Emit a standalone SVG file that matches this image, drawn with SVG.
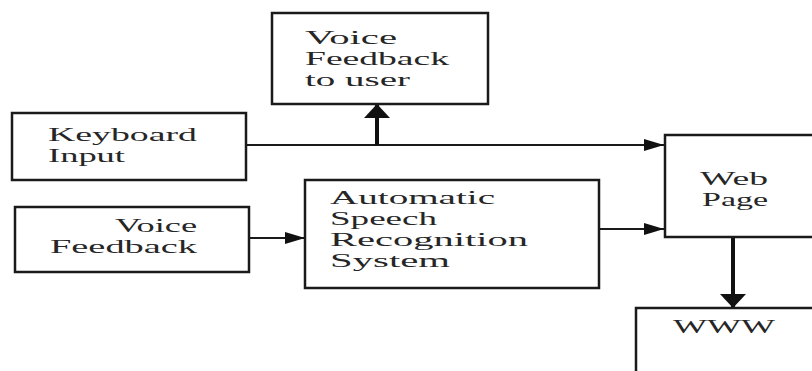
<svg xmlns="http://www.w3.org/2000/svg" width="812" height="371" viewBox="0 0 812 371">
<style>
.box{fill:#fff;stroke:#1a1a1a;stroke-width:2.5}
.t{font-family:"Liberation Serif","Times New Roman",serif;font-size:19px;fill:#262626}
.c{fill:none;stroke:#1a1a1a;stroke-width:2.2}
.ct{fill:none;stroke:#111;stroke-width:4}
</style>
<defs>
<marker id="ah" markerUnits="userSpaceOnUse" markerWidth="20" markerHeight="12" refX="20" refY="6" orient="auto">
<path d="M0,0 L20,6 L0,12 z" fill="#111"/>
</marker>
<marker id="ahb" markerUnits="userSpaceOnUse" markerWidth="14" markerHeight="26" refX="14" refY="13" orient="auto">
<path d="M0,0 L14,13 L0,26 z" fill="#111"/>
</marker>
</defs>
<rect width="812" height="371" fill="#fff"/>
<g id="connectors">
<path class="c" d="M246,145 H664" marker-end="url(#ah)"/>
<path class="ct" d="M377,145 V104" marker-end="url(#ahb)"/>
<path class="c" d="M249,238 H305" marker-end="url(#ah)"/>
<path class="c" d="M599,229 H664" marker-end="url(#ah)"/>
<path class="ct" d="M733,237 V308" marker-end="url(#ahb)"/>
</g>
<g id="voice-feedback-user">
<rect class="box" x="272" y="13" width="216" height="91"/>
<text class="t" x="305" y="44" textLength="92" lengthAdjust="spacingAndGlyphs">Voice</text>
<text class="t" x="305" y="65" textLength="144" lengthAdjust="spacingAndGlyphs">Feedback</text>
<text class="t" x="305" y="86" textLength="105" lengthAdjust="spacingAndGlyphs">to user</text>
</g>
<g id="keyboard-input">
<rect class="box" x="12" y="113" width="234" height="67"/>
<text class="t" x="48" y="141" textLength="149" lengthAdjust="spacingAndGlyphs">Keyboard</text>
<text class="t" x="48" y="162" textLength="77" lengthAdjust="spacingAndGlyphs">Input</text>
</g>
<g id="voice-feedback">
<rect class="box" x="15" y="207" width="234" height="65"/>
<text class="t" x="115" y="232" textLength="82" lengthAdjust="spacingAndGlyphs">Voice</text>
<text class="t" x="50" y="253" textLength="147" lengthAdjust="spacingAndGlyphs">Feedback</text>
</g>
<g id="asr">
<rect class="box" x="305" y="180" width="294" height="108"/>
<text class="t" x="330" y="204" textLength="165" lengthAdjust="spacingAndGlyphs">Automatic</text>
<text class="t" x="330" y="225" textLength="107" lengthAdjust="spacingAndGlyphs">Speech</text>
<text class="t" x="330" y="246" textLength="198" lengthAdjust="spacingAndGlyphs">Recognition</text>
<text class="t" x="330" y="267" textLength="120" lengthAdjust="spacingAndGlyphs">System</text>
</g>
<g id="web-page">
<rect class="box" x="665" y="135" width="160" height="102"/>
<text class="t" x="700" y="185" textLength="68" lengthAdjust="spacingAndGlyphs">Web</text>
<text class="t" x="702" y="206" textLength="66" lengthAdjust="spacingAndGlyphs">Page</text>
</g>
<g id="www">
<rect class="box" x="636" y="308" width="190" height="80"/>
<text class="t" x="673" y="333" textLength="102" lengthAdjust="spacingAndGlyphs">WWW</text>
</g>
</svg>
